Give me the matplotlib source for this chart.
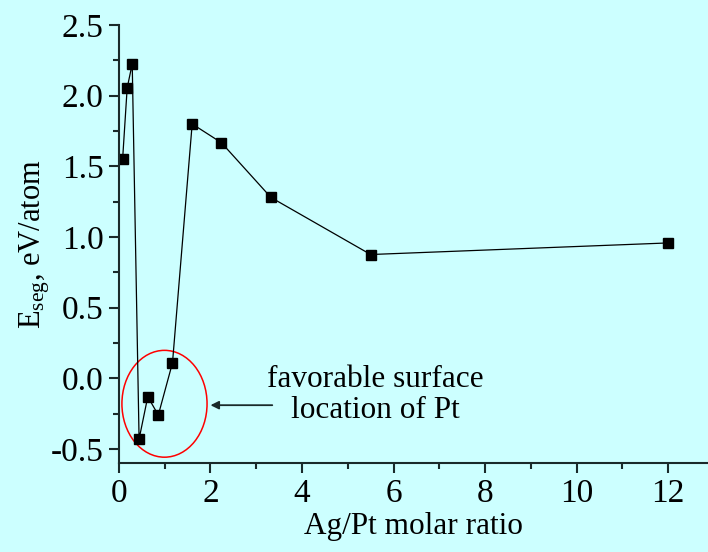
import matplotlib
matplotlib.use("Agg")
import matplotlib.pyplot as plt
from matplotlib.patches import Ellipse
from matplotlib.ticker import MultipleLocator

ratio = [0.08, 0.18, 0.29, 0.44, 0.63, 0.86, 1.17, 1.60, 2.24, 3.32, 5.50, 12.0]
e_seg = [1.55, 2.055, 2.225, -0.43, -0.13, -0.26, 0.11, 1.80, 1.667, 1.28, 0.876, 0.958]
x_ticks = [0, 2, 4, 6, 8, 10, 12]
y_ticks = [-0.5, 0.0, 0.5, 1.0, 1.5, 2.0, 2.5]

plt.rcParams['font.family'] = ['Liberation Serif', 'DejaVu Serif']
plt.rcParams['axes.unicode_minus'] = False
plt.rcParams['mathtext.fontset'] = 'custom'
plt.rcParams['mathtext.rm'] = 'Liberation Serif'
plt.rcParams['mathtext.it'] = 'Liberation Serif'

bg = '#CCFFFF'
fig = plt.figure(figsize=(7.08, 5.52), dpi=100, facecolor=bg)
ax = fig.add_axes([0.168, 0.161, 0.832, 0.7937])
ax.set_facecolor(bg)

ax.plot(ratio, e_seg, color='black', lw=0.9, marker='s', ms=7.5,
        mfc='black', mec='black')

ax.set_xlim(0, 12.87)
ax.set_ylim(-0.6, 2.5)
ax.set_xticks(x_ticks)
ax.set_yticks(y_ticks)
ax.set_yticklabels([f"{v:.1f}" for v in y_ticks])
ax.xaxis.set_minor_locator(MultipleLocator(1))
ax.yaxis.set_minor_locator(MultipleLocator(0.25))

for s in ['top', 'right']:
    ax.spines[s].set_visible(False)
for s in ['left', 'bottom']:
    ax.spines[s].set_linewidth(1.5)
    ax.spines[s].set_color('#1a2a2a')

ax.tick_params(which='major', direction='out', length=7, width=1.5,
               labelsize=24, color='#1a2a2a', pad=4)
ax.tick_params(which='minor', direction='out', length=4, width=1.5,
               color='#1a2a2a')

ax.set_xlabel('Ag/Pt molar ratio', fontsize=22.5, labelpad=2)
ax.set_ylabel('E$_{\\mathrm{seg}}$, eV/atom', fontsize=22, labelpad=-1)

ell = Ellipse((0.995, -0.18), width=1.86, height=0.756, fill=False,
              edgecolor='red', lw=1.1)
ax.add_patch(ell)

ax.annotate('', xy=(2.0, -0.19), xytext=(3.35, -0.19),
            arrowprops=dict(arrowstyle='-|>', color='#1a2a2a', lw=1.3,
                            mutation_scale=12, shrinkA=0, shrinkB=0))
ax.text(5.6, -0.005, 'favorable surface', fontsize=22.5, ha='center', va='center')
ax.text(5.6, -0.225, 'location of Pt', fontsize=22.5, ha='center', va='center')

fig.savefig('out.png', dpi=100, facecolor=bg)
